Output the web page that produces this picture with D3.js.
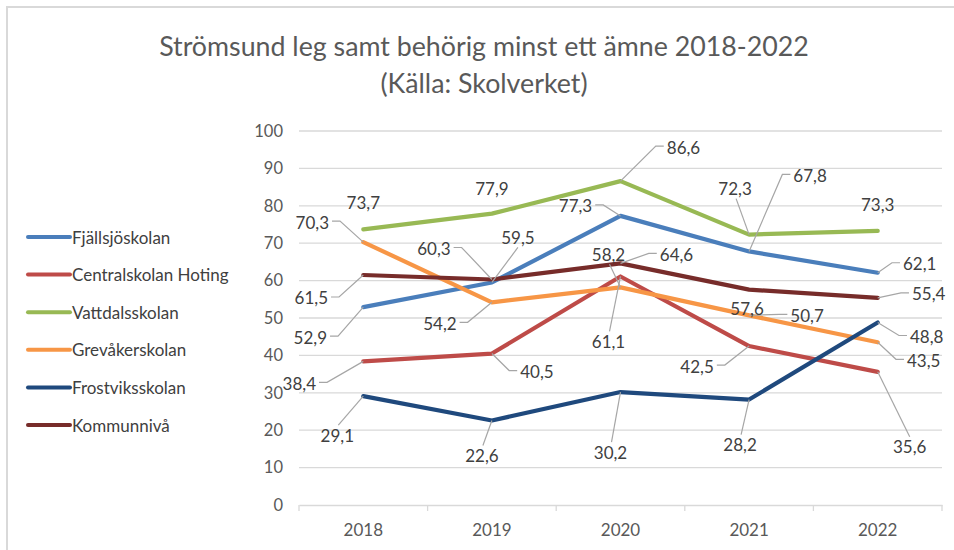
<html>
<head>
<meta charset="utf-8">
<script src="https://d3js.org/d3.v7.min.js"></script>
<style>
  body { margin: 0; padding: 0; background: #fff; }
  text { font-family: Lato, "Open Sans", sans-serif; }
</style>
</head>
<body>
<svg id="chart" width="954" height="550"></svg>
<script>
// ---- data ----
const years = ["2018", "2019", "2020", "2021", "2022"];
const seriesNames = ["Fjällsjöskolan", "Centralskolan Hoting", "Vattdalsskolan",
                     "Grevåkerskolan", "Frostviksskolan", "Kommunnivå"];
const fjallsjo = [52.9, 59.5, 77.3, 67.8, 62.1];
const central = [38.4, 40.5, 61.1, 42.5, 35.6];
const vattdal = [73.7, 77.9, 86.6, 72.3, 73.3];
const grevaker = [70.3, 54.2, 58.2, 50.7, 43.5];
const frostvik = [29.1, 22.6, 30.2, 28.2, 48.8];
const kommun = [61.5, 60.3, 64.6, 57.6, 55.4];
const yTicks = [0, 10, 20, 30, 40, 50, 60, 70, 80, 90, 100];

// ---- styling / layout ----
const colors = ["#4a7ebb", "#be4b48", "#98b954", "#f79646", "#1f497d", "#772c2a"];
// label offsets in px (from data point to label centre), as placed in the original
const labelOffsets = [
  [[-53, 30], [26, -45], [-45, -10], [61, -76], [42, -9]],
  [[-64, 22], [45, 18], [-12, 65], [-52, 20], [32, 75]],
  [[0, -27], [0, -25], [63, -34], [-14, -46], [0, -26]],
  [[-51, -20], [-52, 21], [-12, -33], [58, 0], [46, 18]],
  [[-26, 39], [-10, 35], [-10, 60], [-9, 45], [49, 14]],
  [[-52, 23], [-58, -31], [56, -9], [-2, 19], [51, -4]]
];
const allValues = [fjallsjo, central, vattdal, grevaker, frostvik, kommun];

const svg = d3.select("#chart");
const fmt = v => d3.format(".1f")(v).replace(".", ",");

// chart frame
svg.append("path")
  .attr("d", "M7,560 L7,7 L960,7")
  .attr("fill", "none")
  .attr("stroke", "#d9d9d9")
  .attr("stroke-width", 2);

// title
const title = svg.append("text")
  .attr("x", 484).attr("y", 56)
  .attr("text-anchor", "middle")
  .attr("fill", "#595959");
title.append("tspan").attr("x", 484).attr("dy", 0)
  .text("Strömsund leg samt behörig minst ett ämne 2018-2022");
title.append("tspan").attr("x", 484).attr("dy", 37)
  .text("(Källa: Skolverket)");
let ts = 24;
title.style("font-size", ts + "px");
const w1 = title.select("tspan").node().getComputedTextLength();
ts = ts * 650 / w1;
title.style("font-size", ts + "px");

const x = d3.scaleBand().domain(years).range([299, 942]);
const y = d3.scaleLinear().domain([0, 100]).range([505, 131]);

// gridlines
svg.append("g")
  .selectAll("line")
  .data(yTicks.filter(d => d > 0))
  .join("line")
  .attr("x1", 299).attr("x2", 942)
  .attr("y1", d => y(d)).attr("y2", d => y(d))
  .attr("stroke", "#d9d9d9")
  .attr("stroke-width", 1.3);

// x axis
const xAxis = svg.append("g")
  .attr("transform", "translate(0," + y(0) + ")")
  .call(d3.axisBottom(x).tickSize(0).tickPadding(19));
xAxis.select(".domain").attr("stroke", "#d9d9d9").attr("stroke-width", 1.3);
xAxis.selectAll("text").attr("fill", "#595959").style("font-size", "17px");
xAxis.selectAll("line.bound")
  .data(d3.range(years.length + 1))
  .join("line")
  .attr("class", "bound")
  .attr("x1", i => 299 + i * x.step()).attr("x2", i => 299 + i * x.step())
  .attr("y1", 0).attr("y2", 6)
  .attr("stroke", "#d9d9d9").attr("stroke-width", 1.3);

// y axis labels
const yAxis = svg.append("g")
  .attr("transform", "translate(299,0)")
  .call(d3.axisLeft(y).tickValues(yTicks).tickSize(0).tickPadding(16));
yAxis.select(".domain").remove();
yAxis.selectAll("text").attr("fill", "#595959").style("font-size", "16.5px");

// lines
const line = d3.line()
  .x((d, i) => x(years[i]) + x.bandwidth() / 2)
  .y(d => y(d));

svg.append("g")
  .selectAll("path")
  .data(allValues)
  .join("path")
  .attr("d", d => line(d))
  .attr("fill", "none")
  .attr("stroke", (d, i) => colors[i])
  .attr("stroke-width", 4.2)
  .attr("stroke-linejoin", "round")
  .attr("stroke-linecap", "round");

// data labels + leader lines
const lblG = svg.append("g");
allValues.forEach((vals, s) => {
  vals.forEach((v, i) => {
    const px = x(years[i]) + x.bandwidth() / 2;
    const py = y(v);
    const [dx, dy] = labelOffsets[s][i];
    const cx = px + dx, cy = py + dy;
    const t = lblG.append("text")
      .attr("x", cx).attr("y", cy)
      .attr("text-anchor", "middle")
      .attr("dominant-baseline", "central")
      .attr("fill", "#404040")
      .style("font-size", "17px")
      .text(fmt(v));
    const dist = Math.sqrt(dx * dx + dy * dy);
    if (dist < 30) return;
    const bw = t.node().getComputedTextLength();
    let pts;
    if (Math.abs(dx) > 40) {
      const sgn = dx > 0 ? 1 : -1;
      const ex = cx - sgn * (bw / 2 + 3);
      const elx = ex - sgn * 8;
      pts = [[px, py], [elx, cy - 1], [ex, cy - 1]];
    } else {
      const ey = dy > 0 ? cy - 10 : cy + 10;
      pts = [[px, py], [cx + (px > cx ? 1 : 0), ey]];
    }
    lblG.insert("path", "text")
      .attr("d", d3.line()(pts))
      .attr("fill", "none")
      .attr("stroke", "#a6a6a6")
      .attr("stroke-width", 1.2);
  });
});

// legend
const leg = svg.append("g");
seriesNames.forEach((name, i) => {
  const ly = 237 + i * 37.6;
  leg.append("line")
    .attr("x1", 28).attr("x2", 70)
    .attr("y1", ly).attr("y2", ly)
    .attr("stroke", colors[i])
    .attr("stroke-width", 4)
    .attr("stroke-linecap", "round");
  leg.append("text")
    .attr("x", 72).attr("y", ly)
    .attr("dominant-baseline", "central")
    .attr("fill", "#404040")
    .style("font-size", "17px")
    .text(name);
});
</script>
</body>
</html>
